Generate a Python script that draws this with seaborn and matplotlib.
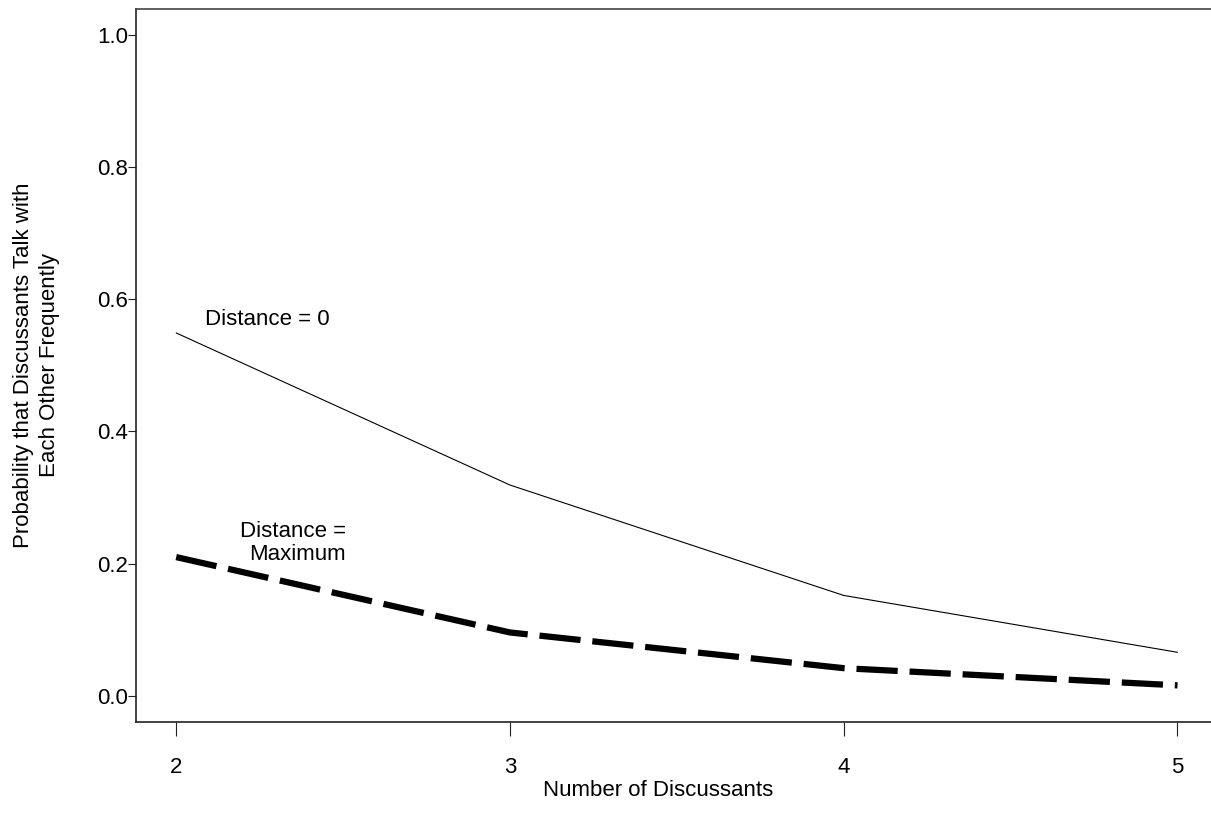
import numpy as np
import pandas as pd
import matplotlib
matplotlib.use("Agg")
import matplotlib.pyplot as plt
import seaborn as sns

# datos
discussants = [2, 3, 4, 5]
prob_dist_0 = [0.549, 0.319, 0.152, 0.066]
prob_dist_max = [0.210, 0.096, 0.042, 0.016]
y_ticks = [0.0, 0.2, 0.4, 0.6, 0.8, 1.0]

sns.set_style("white")
plt.rcParams['font.family'] = ['Liberation Sans', 'DejaVu Sans']
plt.rcParams['text.color'] = 'black'
plt.rcParams['axes.labelcolor'] = 'black'

fig = plt.figure(figsize=(12.11, 8.31), dpi=100)
ax = fig.add_axes([0.1127, 0.1315, 0.8927, 0.8577])

sns.lineplot(ax=ax, x=discussants, y=prob_dist_0, color='black', linewidth=0.8)
sns.lineplot(ax=ax, x=discussants, y=prob_dist_max, color='black', linewidth=4.5,
             linestyle=(0, (6.6, 1.9)))

ax.set_xlim(1.881, 5.12)
ax.set_ylim(-0.039, 1.039)
ax.set_xticks(discussants)
ax.set_yticks(y_ticks)
ax.set_yticklabels([f'{v:.1f}' for v in y_ticks])

ax.tick_params(axis='both', direction='out', width=0.8, color='#222222',
               labelsize=16, labelcolor='black', bottom=True, left=True)
ax.tick_params(axis='x', length=10, pad=15.5)
ax.tick_params(axis='y', length=6, pad=0)

for side in ['left', 'bottom', 'top', 'right']:
    ax.spines[side].set_visible(True)
    ax.spines[side].set_color('#222222')
    ax.spines[side].set_linewidth(1.2)
ax.spines['top'].set_color('#444444')

ax.set_xlabel('Number of Discussants', fontsize=16)
ax.xaxis.set_label_coords(0.4824, -0.082)
ax.set_ylabel('Probability that Discussants Talk with\nEach Other Frequently', fontsize=16,
              linespacing=1.3)
ax.yaxis.set_label_coords(-0.071, 0.5)

ax.text(2.086, 0.569, 'Distance = 0', fontsize=16, ha='left', va='center')
ax.text(2.508, 0.231, 'Distance =\nMaximum', fontsize=16, ha='right', va='center',
        multialignment='right', linespacing=1.15)

fig.savefig('out.png', dpi=100, facecolor='white')
